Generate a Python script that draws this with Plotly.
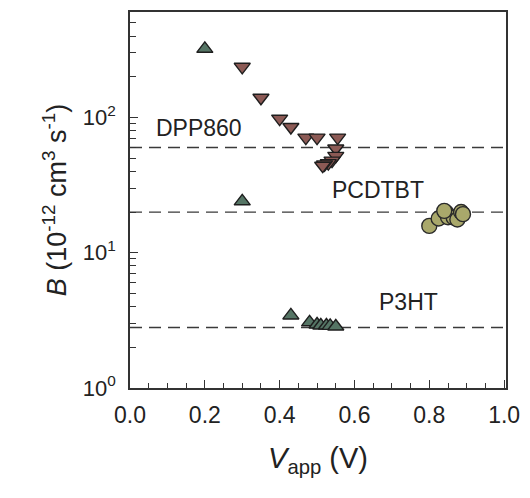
import math
import plotly.graph_objects as go

# Data
dpp_x = [0.30, 0.35, 0.40, 0.43, 0.47, 0.50, 0.555, 0.55, 0.55, 0.54, 0.53, 0.52, 0.515]
dpp_y = [237, 140, 98, 85, 71, 71, 71, 59, 52, 48, 46, 45, 44]

p3ht_x = [0.20, 0.30, 0.43, 0.48, 0.50, 0.51, 0.525, 0.535, 0.55]
p3ht_y = [322, 24, 3.44, 3.06, 2.95, 2.9, 2.9, 2.88, 2.85]

pcdtbt_x = [0.80, 0.825, 0.845, 0.85, 0.865, 0.875, 0.885, 0.89, 0.84]
pcdtbt_y = [15.8, 17.9, 19.8, 18.3, 18.2, 17.6, 20.0, 19.3, 20.4]

ref_names = ["DPP860", "PCDTBT", "P3HT"]
ref_levels = [60, 20, 2.8]
label_x = [0.065, 0.535, 0.66]
label_y = [84, 29, 4.3]

x_ticks = [0.0, 0.2, 0.4, 0.6, 0.8, 1.0]
x_ticktext = ["0.0", "0.2", "0.4", "0.6", "0.8", "1.0"]
y_ticks = [1, 10, 100]
y_ticktext = ["10<sup>0</sup>", "10<sup>1</sup>", "10<sup>2</sup>"]
y_minor = [2, 3, 4, 5, 6, 7, 8, 9, 20, 30, 40, 50, 60, 70, 80, 90, 200, 300, 400, 500]

fig = go.Figure()

for lvl in ref_levels:
    fig.add_shape(type="line", xref="x domain", yref="y", x0=0, x1=1, y0=lvl, y1=lvl,
                  line=dict(color="#3a3a3a", width=1.3, dash="12px,7px"), layer="below")

fig.add_trace(go.Scatter(x=dpp_x, y=dpp_y, mode="markers",
                         marker=dict(symbol="triangle-down", size=14, color="#8c5a55",
                                     line=dict(color="#1e1e1e", width=1.4))))
fig.add_trace(go.Scatter(x=p3ht_x, y=p3ht_y, mode="markers",
                         marker=dict(symbol="triangle-up", size=14, color="#557565",
                                     line=dict(color="#1e1e1e", width=1.4))))
fig.add_trace(go.Scatter(x=pcdtbt_x, y=pcdtbt_y, mode="markers",
                         marker=dict(symbol="circle", size=15, color="#a9a86b",
                                     line=dict(color="#2a2a2a", width=1.4))))

for name, lx, ly in zip(ref_names, label_x, label_y):
    fig.add_annotation(x=lx, y=math.log10(ly), yref="y", text=name, showarrow=False, xanchor="left",
                       yanchor="middle", font=dict(size=23, color="#222222",
                                                   family="Liberation Sans, Arial, sans-serif"))

fig.update_layout(
    width=530, height=498,
    margin=dict(l=130, r=20, t=10, b=110),
    paper_bgcolor="white", plot_bgcolor="white",
    showlegend=False,
    font=dict(family="Liberation Sans, Arial, sans-serif", color="#222222"),
)

fig.update_xaxes(
    range=[0, 1.005], tickvals=x_ticks, ticktext=x_ticktext,
    ticks="inside", ticklen=8, tickwidth=1.2, tickcolor="#333333",
    minor=dict(tickvals=[0.05, 0.1, 0.15, 0.25, 0.3, 0.35, 0.45, 0.5, 0.55, 0.65, 0.7, 0.75,
                         0.85, 0.9, 0.95], ticks="inside", ticklen=5, tickcolor="#333333", tickwidth=1.1),
    showline=True, linecolor="#333333", linewidth=1.6, mirror=True,
    showgrid=False, zeroline=False,
    tickfont=dict(size=23), ticklabelstandoff=6,
    title=dict(text="<i>V</i><sub>app</sub> (V)", font=dict(size=29), standoff=20),
)

fig.update_yaxes(
    type="log", range=[0, 2.78], tickvals=y_ticks, ticktext=y_ticktext,
    ticks="inside", ticklen=8, tickwidth=1.2, tickcolor="#333333",
    minor=dict(tickvals=y_minor, ticks="inside", ticklen=6, tickcolor="#333333", tickwidth=1.1),
    showline=True, linecolor="#333333", linewidth=1.6, mirror=True,
    showgrid=False, zeroline=False,
    tickfont=dict(size=22), ticklabelstandoff=8,
    title=dict(text="<i>B</i> (10<sup>-12</sup> cm<sup>3</sup> s<sup>-1</sup>)", font=dict(size=27), standoff=8),
)

fig.write_html("out.html")
